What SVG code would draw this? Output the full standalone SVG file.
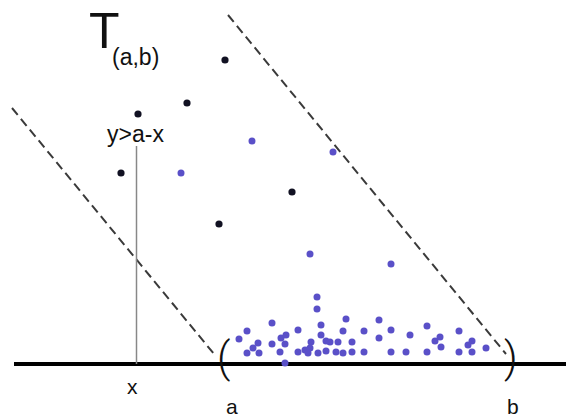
<svg xmlns="http://www.w3.org/2000/svg" width="566" height="418" viewBox="0 0 566 418">
<style>
.t{font-family:"Liberation Sans",Arial,sans-serif;fill:#111}
.p{font-family:Roboto,"Liberation Sans",sans-serif;font-weight:300;fill:#111}
.bk{fill:#111122}
.bl{fill:#5a50c8}
.dash{stroke:#3a3a3a;stroke-width:2;stroke-dasharray:9,5;fill:none}
</style>
<rect width="566" height="418" fill="#fff"/>
<g id="connectors">
<line x1="14" y1="364" x2="566" y2="364" stroke="#000" stroke-width="4"/>
<line class="dash" x1="12" y1="108" x2="214" y2="354"/>
<line class="dash" x1="228" y1="15" x2="506" y2="354"/>
<line x1="136.5" y1="146" x2="136.5" y2="364" stroke="#888" stroke-width="1.5"/>
</g>
<g id="labels">
<text class="t" x="89" y="48" font-size="50">T</text>
<text class="t" x="112" y="65" font-size="23">(a,b)</text>
<text class="t" x="107" y="142" font-size="23">y&gt;a-x</text>
<text class="t" x="127" y="394" font-size="21">x</text>
<text class="t" x="226" y="414" font-size="21">a</text>
<text class="t" x="507" y="414" font-size="21">b</text>
<text class="p" x="217" y="372" font-size="42">(</text>
<text class="p" x="504" y="372" font-size="42">)</text>
</g>
<g id="black-dots" class="bk">
<circle cx="225" cy="60" r="3.6"/>
<circle cx="187" cy="103" r="3.6"/>
<circle cx="138" cy="114" r="3.6"/>
<circle cx="121" cy="173" r="3.6"/>
<circle cx="219" cy="224" r="3.6"/>
<circle cx="292" cy="192" r="3.6"/>
</g>
<g id="blue-dots" class="bl">
<circle cx="181" cy="173" r="3.5"/>
<circle cx="252" cy="141" r="3.5"/>
<circle cx="333" cy="152" r="3.5"/>
<circle cx="310" cy="254" r="3.5"/>
<circle cx="391" cy="264" r="3.5"/>
<circle cx="317" cy="297" r="3.5"/>
<circle cx="317" cy="309" r="3.5"/>
<circle cx="272" cy="323" r="3.5"/>
<circle cx="346" cy="319" r="3.5"/>
<circle cx="379" cy="320" r="3.5"/>
<circle cx="247" cy="331" r="3.5"/>
<circle cx="298" cy="330" r="3.5"/>
<circle cx="321" cy="325" r="3.5"/>
<circle cx="343" cy="331" r="3.5"/>
<circle cx="364" cy="331" r="3.5"/>
<circle cx="391" cy="330" r="3.5"/>
<circle cx="239" cy="339" r="3.5"/>
<circle cx="258" cy="343" r="3.5"/>
<circle cx="272" cy="344" r="3.5"/>
<circle cx="281" cy="338" r="3.5"/>
<circle cx="286" cy="335" r="3.5"/>
<circle cx="285" cy="344" r="3.5"/>
<circle cx="321" cy="335" r="3.5"/>
<circle cx="311" cy="342" r="3.5"/>
<circle cx="326" cy="341" r="3.5"/>
<circle cx="330" cy="342" r="3.5"/>
<circle cx="338" cy="342" r="3.5"/>
<circle cx="352" cy="342" r="3.5"/>
<circle cx="379" cy="338" r="3.5"/>
<circle cx="247" cy="353" r="3.5"/>
<circle cx="253" cy="348" r="3.5"/>
<circle cx="259" cy="353" r="3.5"/>
<circle cx="280" cy="352" r="3.5"/>
<circle cx="298" cy="352" r="3.5"/>
<circle cx="305" cy="350" r="3.5"/>
<circle cx="310" cy="348" r="3.5"/>
<circle cx="308" cy="353" r="3.5"/>
<circle cx="318" cy="353" r="3.5"/>
<circle cx="326" cy="351" r="3.5"/>
<circle cx="336" cy="352" r="3.5"/>
<circle cx="343" cy="353" r="3.5"/>
<circle cx="352" cy="352" r="3.5"/>
<circle cx="364" cy="352" r="3.5"/>
<circle cx="391" cy="352" r="3.5"/>
<circle cx="285" cy="363" r="3.5"/>
<circle cx="410" cy="335" r="3.5"/>
<circle cx="427" cy="326" r="3.5"/>
<circle cx="459" cy="331" r="3.5"/>
<circle cx="440" cy="337" r="3.5"/>
<circle cx="435" cy="341" r="3.5"/>
<circle cx="441" cy="347" r="3.5"/>
<circle cx="472" cy="341" r="3.5"/>
<circle cx="468" cy="345" r="3.5"/>
<circle cx="486" cy="348" r="3.5"/>
<circle cx="406" cy="352" r="3.5"/>
<circle cx="427" cy="352" r="3.5"/>
<circle cx="459" cy="352" r="3.5"/>
<circle cx="472" cy="352" r="3.5"/>
</g>
</svg>
